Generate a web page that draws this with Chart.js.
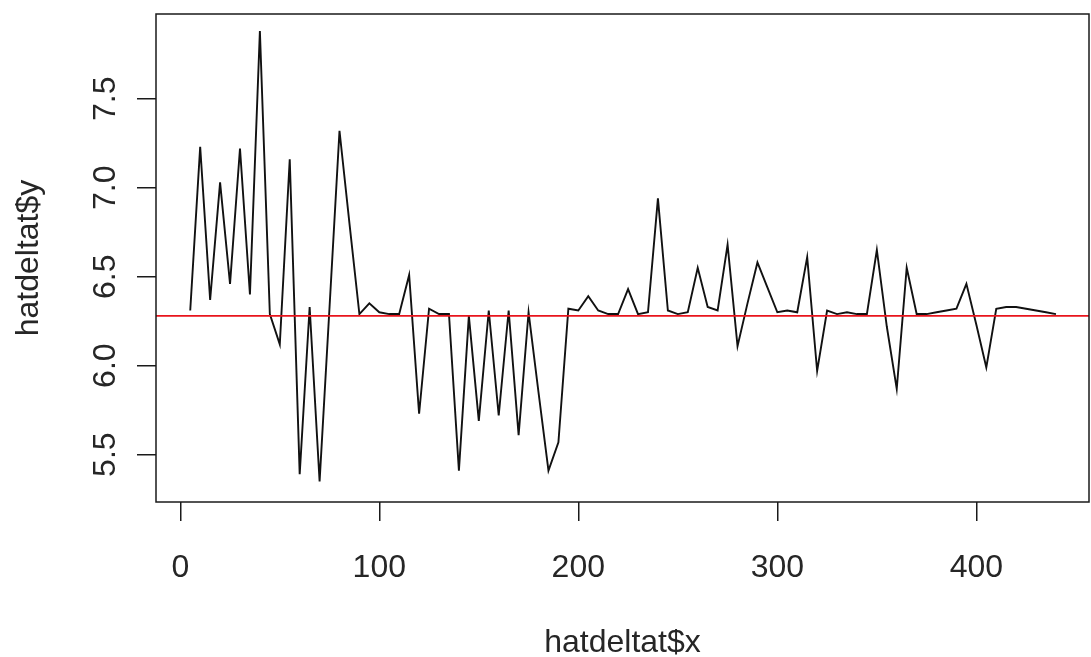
<!DOCTYPE html>
<html>
<head>
<meta charset="utf-8">
<script src="https://cdn.jsdelivr.net/npm/chart.js@4/dist/chart.umd.min.js"></script>
<style>
  html, body { margin: 0; padding: 0; background: #fff; }
  #c { display: block; }
</style>
</head>
<body>
<canvas id="c" width="1091" height="657"></canvas>
<script>
// ---- data ----
const xValues = [
  5, 10, 15, 20, 25, 30, 35, 40, 45, 50,
  55, 60, 65, 70, 75, 80, 85, 90, 95, 100,
  105, 110, 115, 120, 125, 130, 135, 140, 145, 150,
  155, 160, 165, 170, 175, 180, 185, 190, 195, 200,
  205, 210, 215, 220, 225, 230, 235, 240, 245, 250,
  255, 260, 265, 270, 275, 280, 285, 290, 295, 300,
  305, 310, 315, 320, 325, 330, 335, 340, 345, 350,
  355, 360, 365, 370, 375, 380, 385, 390, 395, 400,
  405, 410, 415, 420, 425, 430, 435, 440
];
const yValues = [
  6.31, 7.23, 6.37, 7.03, 6.46, 7.22, 6.40, 7.88, 6.29, 6.12,
  7.16, 5.39, 6.33, 5.35, 6.33, 7.32, 6.80, 6.29, 6.35, 6.30,
  6.29, 6.29, 6.51, 5.73, 6.32, 6.29, 6.29, 5.41, 6.28, 5.69,
  6.31, 5.72, 6.31, 5.61, 6.30, 5.85, 5.41, 5.57, 6.32, 6.31,
  6.39, 6.31, 6.29, 6.29, 6.43, 6.29, 6.30, 6.94, 6.31, 6.29,
  6.30, 6.55, 6.33, 6.31, 6.68, 6.11, 6.35, 6.58, 6.44, 6.30,
  6.31, 6.30, 6.61, 5.97, 6.31, 6.29, 6.30, 6.29, 6.29, 6.65,
  6.22, 5.87, 6.55, 6.29, 6.29, 6.30, 6.31, 6.32, 6.46, 6.23,
  5.99, 6.32, 6.33, 6.33, 6.32, 6.31, 6.30, 6.29
];
const hLineValue = 6.28;
const xTicks = [0, 100, 200, 300, 400];
const yTicks = [5.5, 6.0, 6.5, 7.0, 7.5];
const xTickLabels = ['0', '100', '200', '300', '400'];
const yTickLabels = ['5.5', '6.0', '6.5', '7.0', '7.5'];
const xTitle = 'hatdeltat$x';
const yTitle = 'hatdeltat$y';

// axis limits (R style: 4% extension of data range)
const XMIN = -12.2, XMAX = 456.6;
const YMIN = 5.234, YMAX = 7.976;

const FONT = '32px "Liberation Sans", Arial, sans-serif';
const TEXT_COLOR = '#262626';

const seriesPoints = xValues.map((x, i) => ({ x: x, y: yValues[i] }));
const hLinePoints = [{ x: XMIN, y: hLineValue }, { x: XMAX, y: hLineValue }];

const rDecor = {
  id: 'rDecor',
  afterDraw(chart) {
    const ctx = chart.ctx;
    const a = chart.chartArea;
    const xs = chart.scales.x, ys = chart.scales.y;
    ctx.save();
    // box
    ctx.strokeStyle = '#1a1a1a';
    ctx.lineWidth = 1.5;
    ctx.strokeRect(a.left, a.top, a.right - a.left, a.bottom - a.top);
    // tick labels
    ctx.fillStyle = TEXT_COLOR;
    ctx.font = FONT;
    ctx.textAlign = 'center';
    ctx.textBaseline = 'alphabetic';
    xTicks.forEach((v, i) => {
      ctx.fillText(xTickLabels[i], xs.getPixelForValue(v), 577);
    });
    yTicks.forEach((v, i) => {
      ctx.save();
      ctx.translate(115, ys.getPixelForValue(v));
      ctx.rotate(-Math.PI / 2);
      ctx.fillText(yTickLabels[i], 0, 0);
      ctx.restore();
    });
    // axis titles
    ctx.fillText(xTitle, (a.left + a.right) / 2, 652);
    ctx.save();
    ctx.translate(38, (a.top + a.bottom) / 2);
    ctx.rotate(-Math.PI / 2);
    ctx.fillText(yTitle, 0, 0);
    ctx.restore();
    ctx.restore();
  }
};

new Chart(document.getElementById('c'), {
  type: 'line',
  data: {
    datasets: [
      {
        data: hLinePoints,
        borderColor: '#e8141c',
        borderWidth: 1.8,
        pointRadius: 0,
        tension: 0,
        order: 0
      },
      {
        data: seriesPoints,
        borderColor: '#111111',
        borderWidth: 1.9,
        pointRadius: 0,
        tension: 0,
        order: 1
      }
    ]
  },
  options: {
    responsive: false,
    animation: false,
    devicePixelRatio: 1,
    layout: { padding: { top: 14, right: 2, left: 0, bottom: 0 } },
    plugins: { legend: { display: false }, tooltip: { enabled: false } },
    scales: {
      x: {
        type: 'linear',
        min: XMIN,
        max: XMAX,
        afterBuildTicks: s => { s.ticks = xTicks.map(v => ({ value: v })); },
        afterFit: s => { s.height = 155; },
        ticks: { display: false },
        border: { display: false },
        grid: { drawOnChartArea: false, drawTicks: true, tickLength: 19, color: '#1a1a1a', lineWidth: 1.5 }
      },
      y: {
        type: 'linear',
        min: YMIN,
        max: YMAX,
        afterBuildTicks: s => { s.ticks = yTicks.map(v => ({ value: v })); },
        afterFit: s => { s.width = 156; },
        ticks: { display: false },
        border: { display: false },
        grid: { drawOnChartArea: false, drawTicks: true, tickLength: 19, color: '#1a1a1a', lineWidth: 1.5 }
      }
    }
  },
  plugins: [rDecor]
});
</script>
</body>
</html>
